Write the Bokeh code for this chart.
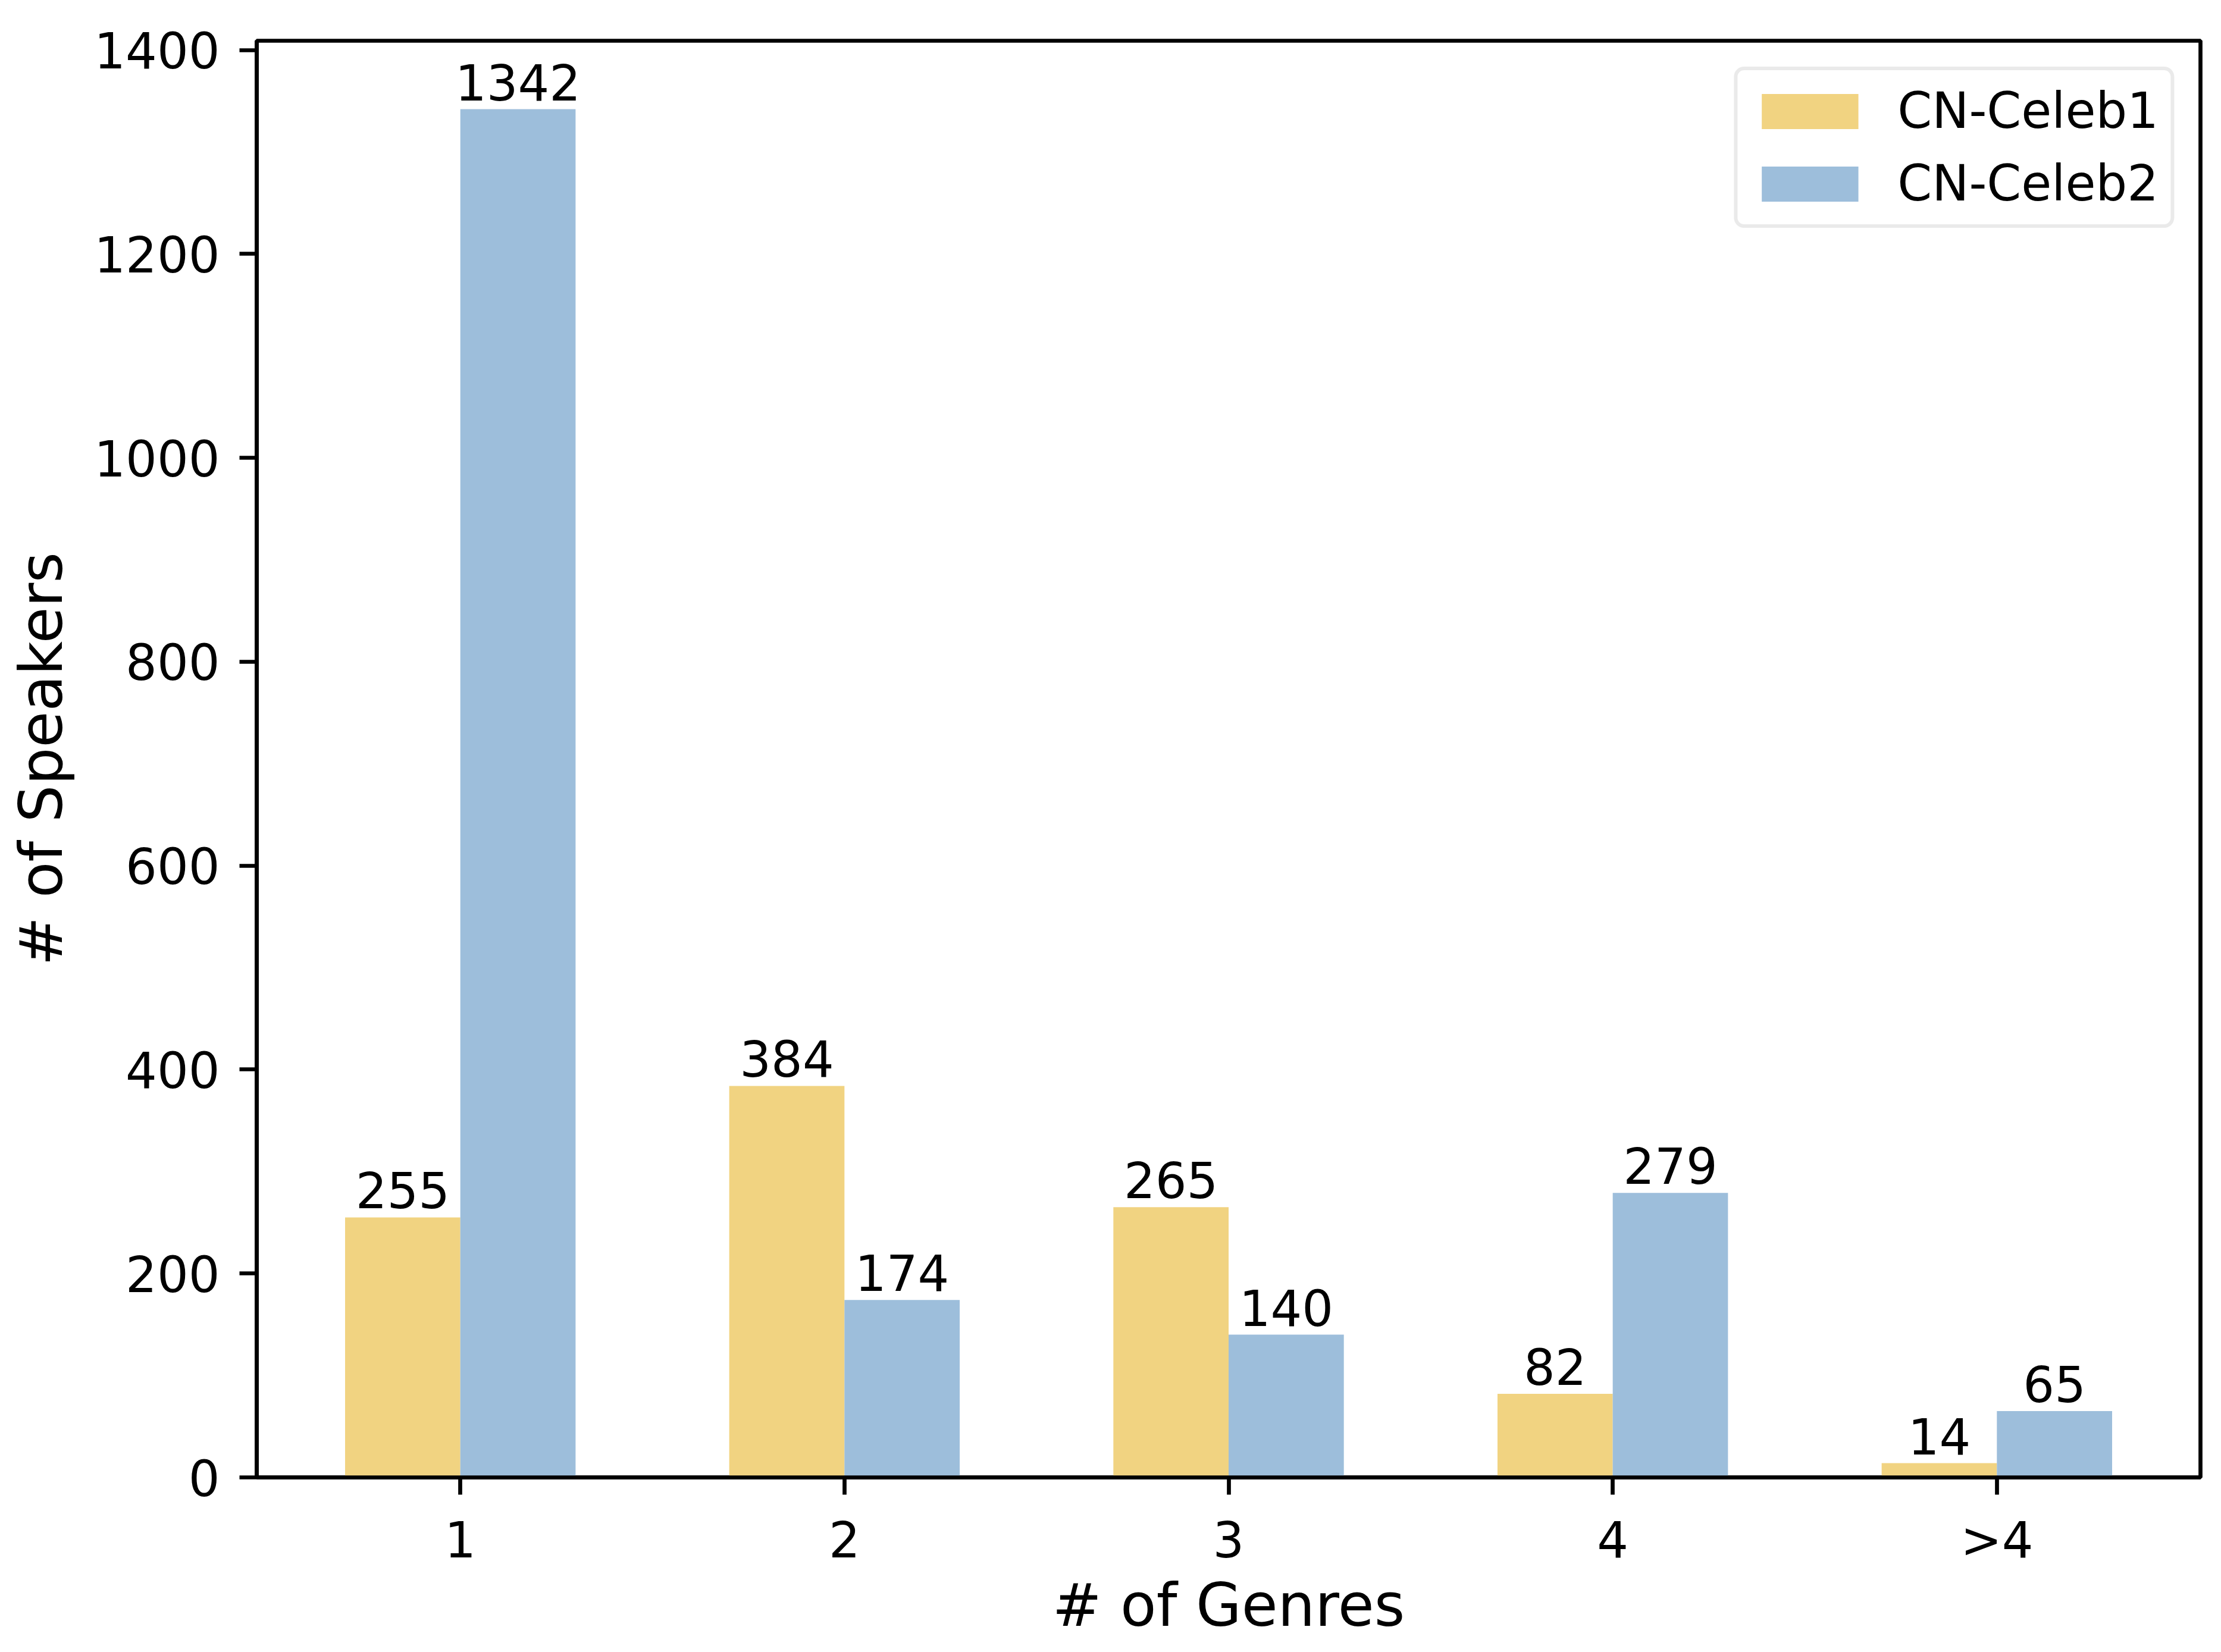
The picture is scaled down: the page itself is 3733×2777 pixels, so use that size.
from bokeh.plotting import figure
from bokeh.models import ColumnDataSource, Range1d, FixedTicker
from bokeh.core.properties import value
from bokeh.embed import file_html
from bokeh.resources import INLINE

categories = ["1", "2", "3", "4", ">4"]
celeb1 = [255, 384, 265, 82, 14]
celeb2 = [1342, 174, 140, 279, 65]
series_names = ["CN-Celeb1", "CN-Celeb2"]
colors = ["#F1D381", "#9DBEDB"]
y_ticks = [0, 200, 400, 600, 800, 1000, 1200, 1400]

FONT = "DejaVu Sans"
bar_w = 0.3
idx = list(range(len(categories)))

p = figure(width=3717, height=2761, output_backend="svg", toolbar_location=None,
           x_range=Range1d(-0.53, 4.53), y_range=Range1d(0, 1409.1),
           min_border_left=431, min_border_right=19, min_border_top=68, min_border_bottom=278)

for vals, name, col, off in [(celeb1, series_names[0], colors[0], -bar_w / 2),
                             (celeb2, series_names[1], colors[1], bar_w / 2)]:
    src = ColumnDataSource(dict(x=[i + off for i in idx], top=vals,
                                lab=[str(v) for v in vals]))
    p.vbar(x="x", top="top", width=bar_w, bottom=0, source=src,
           fill_color=col, line_color=None, legend_label=name)
    p.text(x="x", y="top", text="lab", source=src, text_align="center",
           text_baseline="middle", y_offset=-46, text_color="black",
           text_font=value(FONT), text_font_size=value("83px"))

p.grid.visible = False
p.outline_line_color = "black"
p.outline_line_width = 6.7
p.background_fill_color = "white"
p.border_fill_color = "white"

p.xaxis.ticker = FixedTicker(ticks=idx)
p.xaxis.major_label_overrides = {i: c for i, c in zip(idx, categories)}
p.yaxis.ticker = FixedTicker(ticks=y_ticks)

for ax in (p.xaxis[0], p.yaxis[0]):
    ax.axis_line_color = "black"
    ax.axis_line_width = 6.7
    ax.major_tick_line_color = "black"
    ax.major_tick_line_width = 6.7
    ax.major_tick_in = 0
    ax.major_tick_out = 29
    ax.minor_tick_line_color = None
    ax.major_label_text_font = FONT
    ax.major_label_text_font_size = "83px"
    ax.major_label_text_color = "black"
    ax.axis_label_text_font = FONT
    ax.axis_label_text_font_size = "99px"
    ax.axis_label_text_font_style = "normal"
    ax.axis_label_text_color = "black"

p.xaxis.axis_label = "# of Genres"
p.yaxis.axis_label = "# of Speakers"
p.xaxis.major_label_standoff = 28
p.yaxis.major_label_standoff = 33
p.xaxis.axis_label_standoff = 0
p.yaxis.axis_label_standoff = 28

lg = p.legend[0]
lg.location = "top_right"
lg.margin = 44
lg.padding = 20
lg.spacing = 25
lg.glyph_width = 203
lg.glyph_height = 74
lg.label_height = 59
lg.label_standoff = 46
lg.label_text_font = FONT
lg.label_text_font_size = "83px"
lg.label_text_color = "black"
lg.border_line_color = "#d6d6d6"
lg.border_line_width = 6.7
lg.border_radius = 17
lg.background_fill_color = "white"
lg.background_fill_alpha = 1.0

open("out.html", "w").write(file_html(p, INLINE))
